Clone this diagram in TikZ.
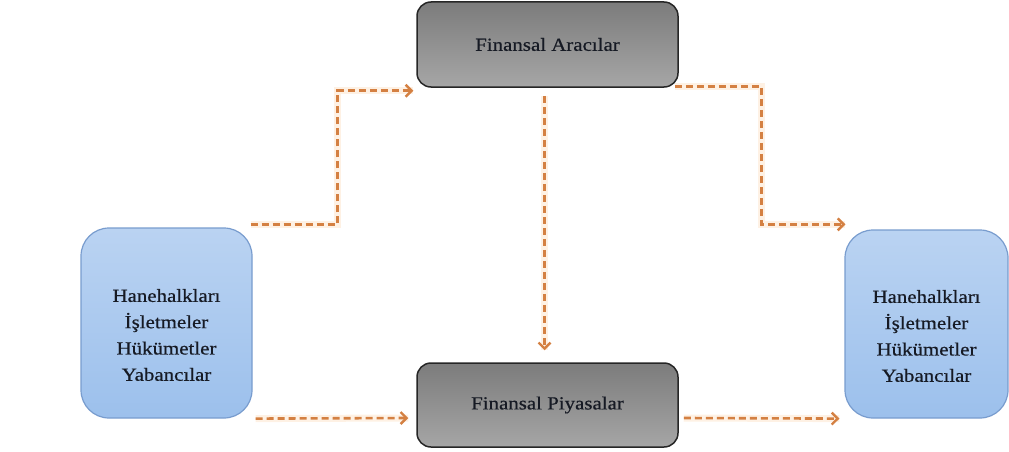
\documentclass[tikz,border=0pt]{standalone}
\usepackage{fontspec}
\setmainfont{Liberation Serif}[FakeStretch=1.13,FakeBold=0.5]
\usetikzlibrary{arrows.meta,calc}

\definecolor{flowc}{RGB}{212,128,66}
\definecolor{glowc}{RGB}{254,241,228}
\definecolor{blueTop}{RGB}{186,211,242}
\definecolor{blueBot}{RGB}{156,192,236}
\definecolor{blueLine}{RGB}{120,156,206}
\definecolor{grayTop}{RGB}{124,124,124}
\definecolor{grayBot}{RGB}{166,166,166}
\definecolor{inkc}{RGB}{22,26,36}

\tikzset{
  agentbox/.style={draw=blueLine, line width=1.2pt, rounded corners=28pt,
    top color=blueTop, bottom color=blueBot, inner sep=0pt},
  agenttext/.style={align=center, font=\fontsize{18.5}{26.3}\selectfont,
    text=inkc, inner sep=0pt},
  finbox/.style={draw=black!85, line width=1.5pt, rounded corners=14pt,
    top color=grayTop, bottom color=grayBot, align=center,
    font=\fontsize{18.5}{22}\selectfont, text=inkc, inner sep=0pt},
  flow/.style={draw=flowc, line width=2.6pt, dash pattern=on 7pt off 4pt,
    -{Straight Barb[length=6pt,width=12pt,line width=2.4pt]},
    preaction={draw=glowc, line width=7pt, solid, -}},
}

\begin{document}
\begin{tikzpicture}[x=1pt,y=-1pt]
  \useasboundingbox (0,0) rectangle (1009,452);

  % institutions
  \node[finbox, minimum width=261pt, minimum height=85pt] (tbox) at (547.5,44.5) {Finansal Aracılar};
  \node[finbox, minimum width=261pt, minimum height=84pt] (bbox) at (547.5,405) {Finansal Piyasalar};

  % economic units
  \node[agentbox, minimum width=171pt, minimum height=190pt] (lbox) at (166.5,323) {};
  \node[agenttext] (ltext) at ($(lbox.center)+(0,12)$)
    {Hanehalkları\\İşletmeler\\Hükümetler\\Yabancılar};
  \node[agentbox, minimum width=163pt, minimum height=188pt] (rbox) at (926.5,324) {};
  \node[agenttext] (rtext) at ($(rbox.center)+(0,12)$)
    {Hanehalkları\\İşletmeler\\Hükümetler\\Yabancılar};

  % fund flows
  \draw[flow] ($(lbox.north east)+(-2,-3)$) -- ++(87,0) |- ($(tbox.south west)+(-3,3)$);
  \draw[flow] ($(tbox.south east)+(-4,-1)$) -- ++(87,0) |- ($(rbox.north west)+(1,-5)$);
  \draw[flow] ($(tbox.south)+(-3,8)$) -- ($(bbox.north)+(-3,-12)$);
  \draw[flow] ($(lbox.south east)+(3,0)$) -- ($(bbox.west)+(-8,13)$);
  \draw[flow] ($(bbox.east)+(5,13)$) -- ($(rbox.south west)+(-5,0)$);
\end{tikzpicture}
\end{document}
